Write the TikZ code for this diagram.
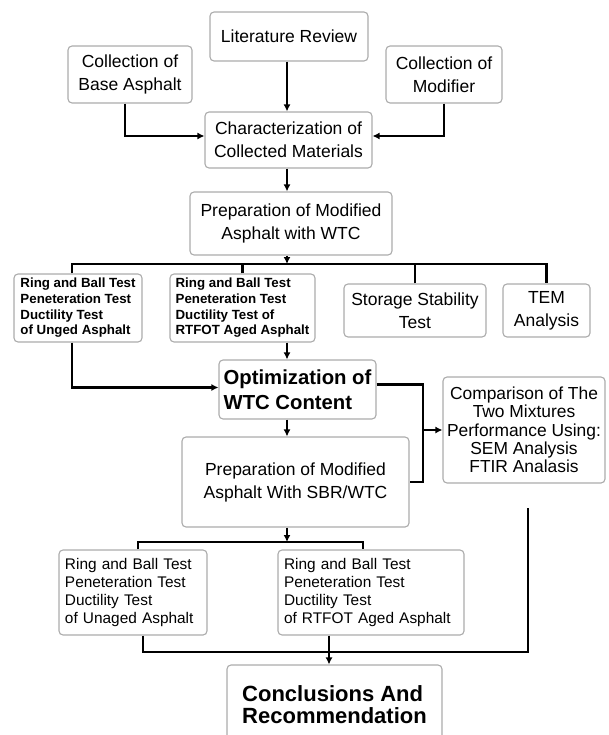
\documentclass[tikz,border=0pt]{standalone}
\usepackage{fontspec}
\setmainfont{Liberation Sans}
\usetikzlibrary{arrows.meta}

\begin{document}
\begin{tikzpicture}[
    x			= 1bp,
    y			= -1bp,
    box/.style		= {draw=gray!65, line width=1.1bp, rounded corners=4bp, fill=white,
                           align=center, inner xsep=3bp, inner ysep=2bp,
                           font=\fontsize{17.5bp}{23bp}\selectfont},
    testbox/.style	= {box, align=left, font=\fontsize{13.3bp}{15.7bp}\selectfont\bfseries},
    resbox/.style	= {box, align=left, inner xsep=6bp, font=\fontsize{15.4bp}{18.3bp}\selectfont},
    keybox/.style	= {box, align=left, font=\fontsize{20.3bp}{25bp}\selectfont\bfseries},
    link/.style		= {line width=2.8bp},
    >={Latex[length=7bp,width=7bp]}
  ]
\useasboundingbox (0,0) rectangle (609,735);
% first stage
\node[box, minimum width=158bp, minimum height=49bp] (lit) at (289,36.5) {Literature Review};
\node[box, minimum width=124bp, minimum height=57bp] (base) at (130,74.5) {Collection of\\Base Asphalt};
\node[box, minimum width=116bp, minimum height=57bp] (modif) at (444,74.5) {Collection of\\Modifier};
\node[box, minimum width=167bp, minimum height=56bp] (charac) at (288.5,140) {Characterization of\\Collected Materials};
\node[box, minimum width=202bp, minimum height=63bp] (prepwtc) at (291,223.5) {Preparation of Modified\\Asphalt with WTC};
% tests on WTC asphalt
\node[testbox, minimum width=128bp, minimum height=68bp] (unaged) at (78,308) {Ring and Ball Test\\Peneteration Test\\Ductility Test\\of Unged Asphalt};
\node[testbox, minimum width=145bp, minimum height=68bp] (rtfot) at (242.5,308) {Ring and Ball Test\\Peneteration Test\\Ductility Test of\\RTFOT Aged Asphalt};
\node[box, minimum width=142bp, minimum height=53bp] (storage) at (415,310.5) {Storage Stability\\Test};
\node[box, minimum width=87bp, minimum height=53bp] (tem) at (546.5,310.5) {TEM\\Analysis};
% second stage
\node[keybox, minimum width=157bp, minimum height=59bp] (optim) at (297.5,389.5) {Optimization of\\WTC Content};
\node[box, minimum width=162bp, minimum height=106bp, font=\fontsize{17.4bp}{18.3bp}\selectfont] (compar) at (524,430) {Comparison of The\\Two Mixtures\\Performance Using:\\SEM Analysis\\FTIR Analasis};
\node[box, minimum width=227bp, minimum height=90bp] (prepsbr) at (295.5,482) {Preparation of Modified\\Asphalt With SBR/WTC};
\node[resbox, text width=136bp, minimum height=85bp] (unaged2) at (133,592.5) {Ring and Ball Test\\Peneteration Test\\Ductility Test\\of Unaged Asphalt};
\node[resbox, text width=174bp, minimum height=85bp] (rtfot2) at (371,592.5) {Ring and Ball Test\\Peneteration Test\\Ductility Test\\of RTFOT Aged Asphalt};
\node[keybox, minimum width=215bp, minimum height=80bp, font=\fontsize{22bp}{22bp}\selectfont\bfseries] (concl) at (334.5,705) {Conclusions And\\Recommendation};
% main column
\coordinate (col) at (287,0);
\draw[link,->] (lit.south -| col) -- (charac.north -| col);
\draw[link,->] ([xshift=-5bp]base.south) |- ([yshift=4bp]charac.west);
\draw[link,->] (modif.south) |- ([yshift=4bp]charac.east);
\draw[link,->] (charac.south -| col) -- (prepwtc.north -| col);
% first split
\coordinate (split1) at (287,264);
\draw[link,->] (prepwtc.south -| col) -- (split1);
\draw[link] ([xshift=-6bp]unaged.north) |- (split1) -| (tem.north);
\draw[link] (rtfot.north) -- (rtfot.north |- split1);
\draw[link] (storage.north) -- (storage.north |- split1);
\draw[link,->] ([xshift=-6bp]unaged.south) |- ([yshift=2bp]optim.west);
\draw[link,->] (rtfot.south -| col) -- (optim.north -| col);
% comparison loop
\coordinate (tee) at (423,430);
\draw[link] ([yshift=5bp]optim.east) -| (tee) |- (prepsbr.east);
\draw[link,->] (tee) -- (compar.west);
\draw[link,->] (optim.south -| col) -- (prepsbr.north -| col);
% second split
\coordinate (split2) at (287,542);
\draw[link,->] (prepsbr.south -| col) -- (split2);
\draw[link] ([xshift=5bp]unaged2.north) |- (split2) -| ([xshift=-8bp]rtfot2.north);
% bottom join
\coordinate (join) at (329,652);
\coordinate (tail) at (528,508);
\draw[link] ([xshift=10bp]unaged2.south) |- (join) -| (tail);
\draw[link,->] (rtfot2.south -| join) -- (concl.north -| join);
%
\end{tikzpicture}
\end{document}
